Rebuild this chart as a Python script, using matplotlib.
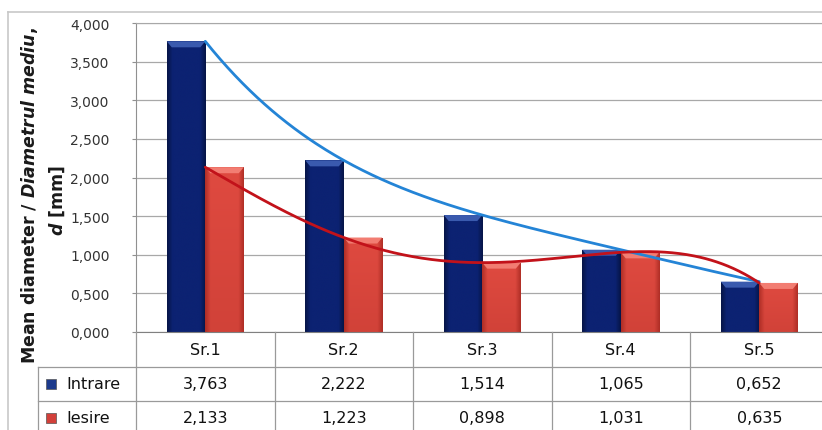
import numpy as np
import matplotlib
matplotlib.use('Agg')
import matplotlib.pyplot as plt
from matplotlib.patches import Polygon, Rectangle
from matplotlib.transforms import blended_transform_factory

# ---------------- data ----------------
categories = ['Sr.1', 'Sr.2', 'Sr.3', 'Sr.4', 'Sr.5']
intrare = [3.763, 2.222, 1.514, 1.065, 0.652]
iesire = [2.133, 1.223, 0.898, 1.031, 0.635]
series_names = ['Intrare', 'Iesire']
y_ticks = [0.0, 0.5, 1.0, 1.5, 2.0, 2.5, 3.0, 3.5, 4.0]

plt.rcParams['mathtext.fontset'] = 'custom'
plt.rcParams['mathtext.rm'] = 'DejaVu Sans:bold'
plt.rcParams['mathtext.it'] = 'DejaVu Sans:italic:bold'


def fmt(v):
    return f"{v:.3f}".replace('.', ',')


def trend(xs, ys, order=4, n=300):
    # polynomial trendline (as in the spreadsheet chart)
    c = np.polyfit(xs, ys, order)
    xx = np.linspace(xs[0], xs[-1], n)
    return xx, np.polyval(c, xx)


def hex2rgb(h):
    h = h.lstrip('#')
    return np.array([int(h[i:i + 2], 16) / 255 for i in (0, 2, 4)])


W, H = 822, 431
fig = plt.figure(figsize=(W / 100, H / 100), dpi=100)
fig.patch.set_facecolor('white')

ax_left, ax_right, ax_top, ax_bot = 136, 828.5, 24, 333
ax = fig.add_axes([ax_left / W, (H - ax_bot) / H, (ax_right - ax_left) / W, (ax_bot - ax_top) / H])
ax.set_facecolor('white')

x = np.arange(len(categories))
bw = 0.278

styles = [
    dict(base='#0C2272', light='#3A5AAE', dark='#05123F', vdark=0.0),
    dict(base='#DF4A40', light='#F27D72', dark='#A82A22', vdark=0.25),
]

y_px = (ax_bot - ax_top) / 4.0
x_px = (ax_right - ax_left) / 5.0

for k, (vals, st) in enumerate(zip([intrare, iesire], styles)):
    offs = -bw / 2 if k == 0 else bw / 2
    bars = ax.bar(x + offs, vals, width=bw, color=st['base'], edgecolor='none', zorder=2)
    base = hex2rgb(st['base'])
    dark = hex2rgb(st['dark'])
    u = np.linspace(0, 1, 80)
    e = np.clip(1 - np.minimum(u, 1 - u) / 0.14, 0, 1)
    vf = 1 - st['vdark'] * (1 - np.linspace(0, 1, 80))
    for rect in bars:
        x0, w, h = rect.get_x(), rect.get_width(), rect.get_height()
        img = np.zeros((80, 80, 3))
        for c in range(3):
            hc = base[c] * (1 - 0.85 * e) + dark[c] * 0.85 * e
            img[:, :, c] = np.outer(np.ones(80), hc) * vf[:, None] + dark[c] * (1 - vf[:, None])
        im = ax.imshow(np.clip(img, 0, 1), extent=(x0, x0 + w, 0, h), origin='lower',
                       aspect='auto', zorder=2.1, interpolation='bilinear')
        im.set_clip_path(rect)
        dy = 6 / y_px
        dx = 5 / x_px
        bevel = Polygon([(x0, h), (x0 + w, h), (x0 + w - dx, h - dy), (x0 + dx, h - dy)],
                        closed=True, facecolor=st['light'], edgecolor='none', zorder=2.2)
        ax.add_patch(bevel)

xs, ys = trend(x, intrare)
ax.plot(xs, ys, color='#2484D6', lw=2.0, zorder=4, solid_capstyle='round')
xs, ys = trend(x, iesire)
ax.plot(xs, ys, color='#C2121A', lw=2.0, zorder=4, solid_capstyle='round')

ax.set_xlim(-0.5, 4.5)
ax.set_ylim(0, 4.0)
ax.set_yticks(y_ticks)
ax.set_yticklabels([fmt(t) for t in y_ticks], fontsize=10, color='#333333')
ax.set_xticks([])
ax.yaxis.grid(True, color='#A8A8A8', lw=0.9, zorder=0)
ax.set_axisbelow(True)
ax.tick_params(axis='y', length=3, color='#909090', pad=16)
ax.spines['right'].set_visible(False)
ax.spines['top'].set_color('#A8A8A8')
ax.spines['left'].set_color('#909090')
ax.spines['bottom'].set_color('#808080')

# ---------------- overlay: frame, table, axis title ----------------
ov = fig.add_axes([0, 0, 1, 1], zorder=5)
ov.set_xlim(0, W)
ov.set_ylim(H, 0)
ov.axis('off')
ov.patch.set_visible(False)

# outer chart frame
ov.plot([8, 8], [13, H + 5], color='#C8C8C8', lw=1.2)
ov.plot([8, W + 5], [13, 13], color='#C8C8C8', lw=1.2)

tr = blended_transform_factory(ax.transData, ov.transData)
line_c = '#9A9A9A'
row_y = [351, 385, 419]
row_lines = [368, 402, 436]
for i in range(len(categories) + 1):
    ov.plot([i - 0.5, i - 0.5], [ax_bot, H + 5], color=line_c, lw=0.9, transform=tr)
for yl in row_lines:
    ov.plot([38, W + 10], [yl, yl], color=line_c, lw=0.9)
ov.plot([38, 38], [368, H + 5], color=line_c, lw=0.9)

tfont = dict(fontsize=11.5, color='#111111', ha='center', va='center')
for i, c in enumerate(categories):
    ov.text(i, row_y[0], c, transform=tr, **tfont)
    ov.text(i, row_y[1], fmt(intrare[i]), transform=tr, **tfont)
    ov.text(i, row_y[2], fmt(iesire[i]), transform=tr, **tfont)

key_cols = ['#1D3A8C', '#D2403A']
for r, (name, kc) in enumerate(zip(series_names, key_cols)):
    yc = row_y[r + 1]
    ov.add_patch(Rectangle((46, yc - 5), 10, 10, facecolor=kc, edgecolor='#555555', lw=0.5))
    ov.text(66, yc, name, fontsize=11.5, color='#111111', ha='left', va='center')

# axis title
fig.text(30 / W, 1 - 196 / H, r"Mean diameter / $\mathit{Diametrul\ mediu,}$", rotation=90,
         fontsize=12.5, fontweight='bold', color='#1A1A1A', ha='center', va='center')
fig.text(57 / W, 1 - 200 / H, r"$\mathit{d}$ [mm]", rotation=90,
         fontsize=12.5, fontweight='bold', color='#1A1A1A', ha='center', va='center')

fig.savefig('out.png', dpi=100)
